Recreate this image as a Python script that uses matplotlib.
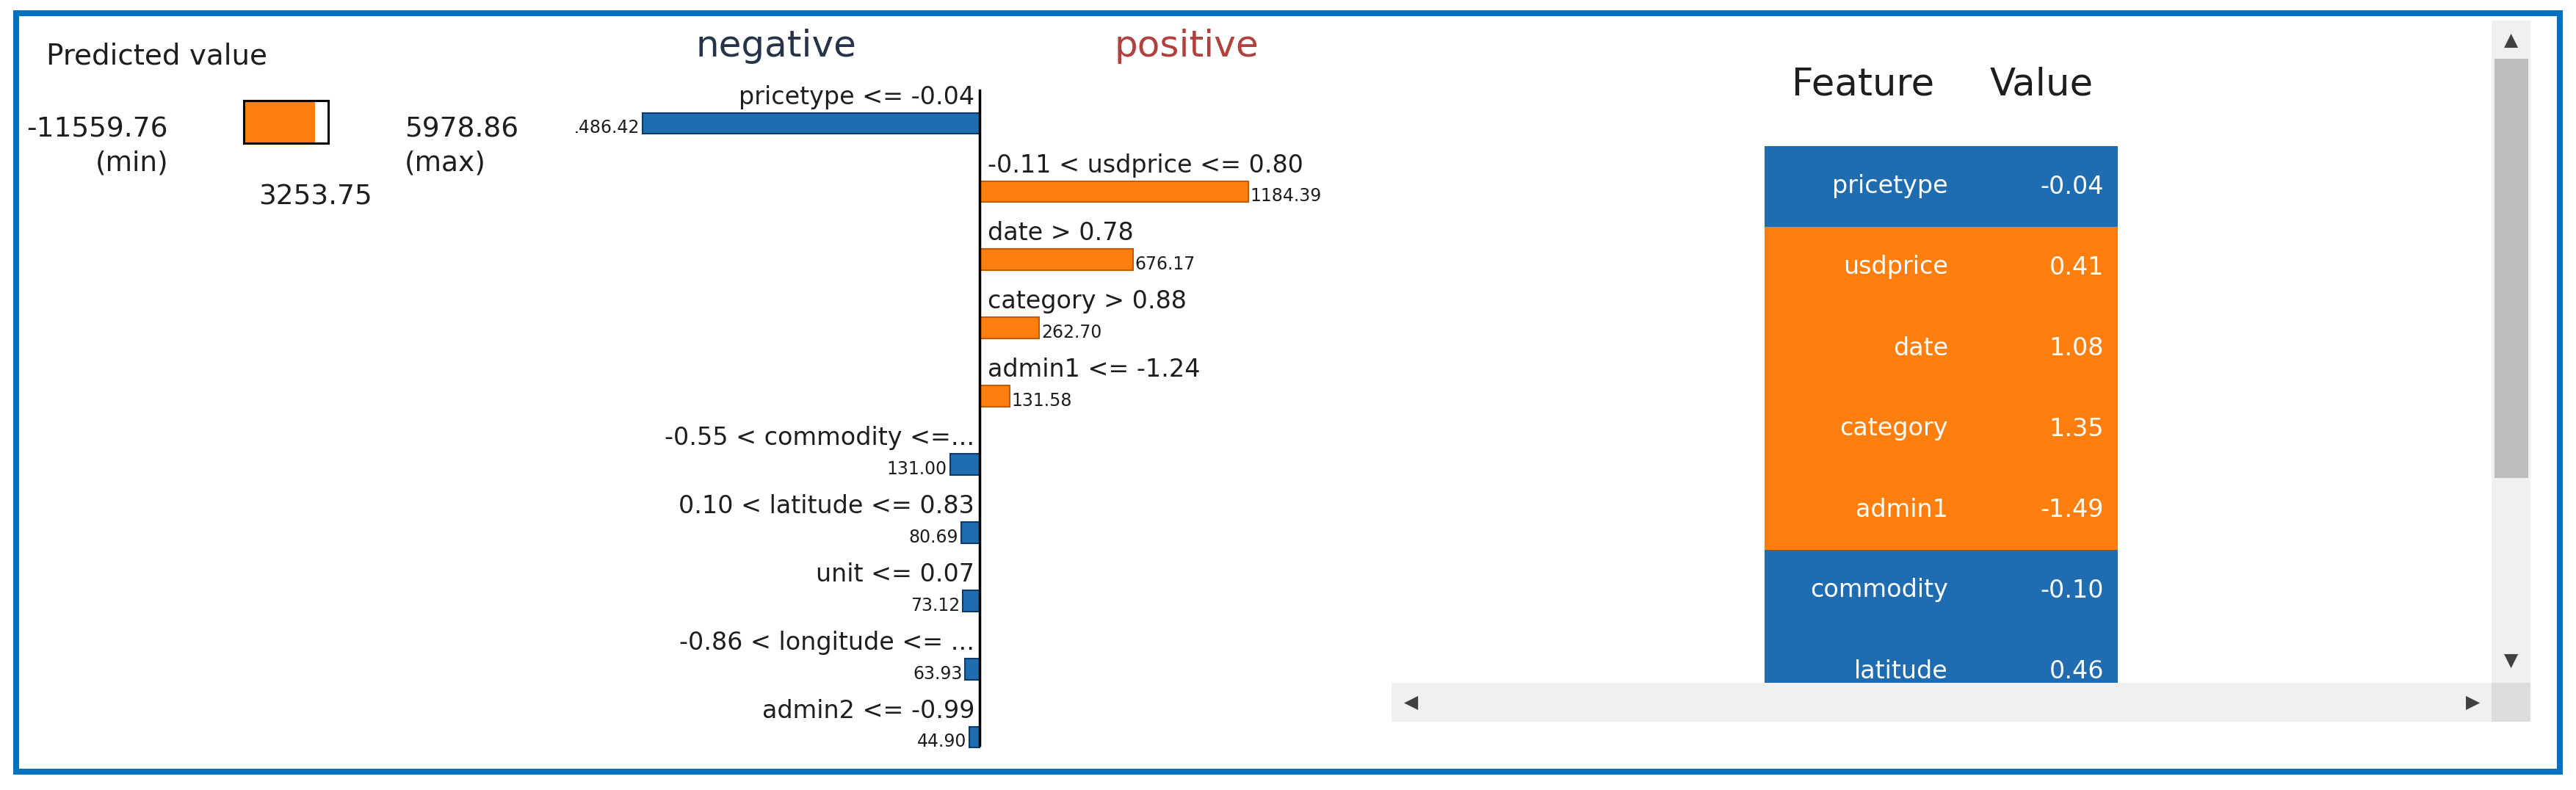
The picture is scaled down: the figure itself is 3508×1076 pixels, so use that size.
import matplotlib.pyplot as plt
from matplotlib.patches import Rectangle

# LIME explanation values
pred_min = -11559.76
pred_max = 5978.86
pred_value = 3253.75

feature_labels = ["pricetype <= -0.04", "-0.11 < usdprice <= 0.80", "date > 0.78",
                  "category > 0.88", "admin1 <= -1.24", "-0.55 < commodity <=...",
                  "0.10 < latitude <= 0.83", "unit <= 0.07", "-0.86 < longitude <= ...",
                  "admin2 <= -0.99"]
weights = [-1486.42, 1184.39, 676.17, 262.70, 131.58, -131.00, -80.69, -73.12, -63.93, -44.90]

table_features = ["pricetype", "usdprice", "date", "category", "admin1", "commodity", "latitude"]
table_values = [-0.04, 0.41, 1.08, 1.35, -1.49, -0.10, 0.46]

BLUE = "#1f6db0"
BLUE_EDGE = "#0b3a6b"
ORANGE = "#ff7f0e"
ORANGE_EDGE = "#c25c05"
TXT = "#1e1e1e"

W, H = 3508, 1076
fig = plt.figure(figsize=(W / 100, H / 100), dpi=100)


def box(x0, y0, x1, y1):
    # axes placed by pixel box (top-left origin)
    return fig.add_axes([x0 / W, 1 - y1 / H, (x1 - x0) / W, (y1 - y0) / H])


def ftext(x, y, s, **kw):
    kw.setdefault("color", TXT)
    return fig.text(x / W, 1 - y / H, s, **kw)


# background layer for frame and scrollbars
bg = fig.add_axes([0, 0, 1, 1])
bg.set_xlim(0, W)
bg.set_ylim(H, 0)
bg.axis("off")

# ---- predicted value panel ----
ftext(63, 88, "Predicted value", fontsize=28, va="baseline")
ftext(229, 186, f"{pred_min:.2f}", fontsize=27, ha="right", va="baseline")
ftext(229, 233, "(min)", fontsize=27, ha="right", va="baseline")
ftext(551, 186, f"{pred_max:.2f}", fontsize=27, ha="left", va="baseline")
ftext(551, 233, "(max)", fontsize=27, ha="left", va="baseline")

axp = box(332, 137, 447, 195)
axp.barh(0.5, pred_value - pred_min, left=pred_min, height=1, color=ORANGE)
axp.set_xlim(pred_min, pred_max)
axp.set_ylim(0, 1)
axp.set_xticks([])
axp.set_yticks([])
for sp in axp.spines.values():
    sp.set_linewidth(2.2)
    sp.set_color("black")
axp.annotate(f"{pred_value:.2f}", xy=(pred_value, 0), xycoords=("data", "axes fraction"),
             xytext=(0, -83), textcoords="offset pixels", ha="center", va="baseline",
             fontsize=27, color=TXT, annotation_clip=False)

# ---- contribution bars ----
ftext(1057, 77, "negative", fontsize=36, ha="center", va="baseline", color="#26344a")
ftext(1616, 77, "positive", fontsize=36, ha="center", va="baseline", color="#b0413e")

zero_px, unit_px = 1334, 0.3088
row0, row_px = 168, 92.9
ax_l, ax_r, ax_t, ax_b = 784, 1850, 100, 1030
ax = box(ax_l, ax_t, ax_r, ax_b)
ax.set_xlim((ax_l - zero_px) / unit_px, (ax_r - zero_px) / unit_px)
ax.set_ylim((ax_b - row0) / row_px, (ax_t - row0) / row_px)
ax.axis("off")

h = 0.31
rows = list(range(len(weights)))
ax.barh(rows, weights, height=h,
        color=[ORANGE if w > 0 else BLUE for w in weights],
        edgecolor=[ORANGE_EDGE if w > 0 else BLUE_EDGE for w in weights], linewidth=1.5)
ax.axvline(0, ymin=(ax_b - 1015) / (ax_b - ax_t), ymax=(ax_b - 123) / (ax_b - ax_t),
           color="black", lw=2.5)

for i, (lab, w) in enumerate(zip(feature_labels, weights)):
    if w > 0:
        ax.annotate(lab, xy=(0, i - h / 2), xytext=(11, 12), textcoords="offset pixels",
                    ha="left", va="baseline", fontsize=24, color=TXT)
        ax.annotate(f"{abs(w):.2f}", xy=(w, i + h / 2), xytext=(3, 1),
                    textcoords="offset pixels", ha="left", va="baseline",
                    fontsize=17, color=TXT, clip_on=True)
    else:
        ax.annotate(lab, xy=(0, i - h / 2), xytext=(-7, 12), textcoords="offset pixels",
                    ha="right", va="baseline", fontsize=24, color=TXT)
        ax.annotate(f"{abs(w):.2f}", xy=(w, i + h / 2), xytext=(-4, 1),
                    textcoords="offset pixels", ha="right", va="baseline",
                    fontsize=17, color=TXT, clip_on=True)

# ---- feature / value table ----
ftext(2440, 129.5, "Feature", fontsize=37, va="baseline")
ftext(2710, 129.5, "Value", fontsize=37, va="baseline")

tb_t, tb_b, tb_row = 199, 930, 110
axt = box(2403, tb_t, 2884, tb_b)
axt.set_xlim(0, 1)
axt.set_ylim((tb_b - tb_t) / tb_row, 0)
axt.axis("off")
trows = [i + 0.5 for i in range(len(table_features))]
axt.barh(trows, 1, height=1, left=0,
         color=[ORANGE if w > 0 else BLUE for w in weights[:len(table_features)]])
for y, name, val in zip(trows, table_features, table_values):
    axt.text(0.52, y, name, ha="right", va="center", fontsize=24, color="white", clip_on=True)
    axt.text(0.96, y, f"{val:.2f}", ha="right", va="center", fontsize=24, color="white",
             clip_on=True)

# ---- scrollbars ----
bg.add_patch(Rectangle((3393, 28), 53, 902, color="#f0f0f0", lw=0))
bg.add_patch(Rectangle((3397, 80), 46, 571, color="#bdbdbd", lw=0))
bg.add_patch(Rectangle((1895, 930), 1498, 53, color="#f0f0f0", lw=0))
bg.add_patch(Rectangle((3393, 930), 53, 53, color="#dcdcdc", lw=0))
for (x, y, s) in [(3420, 55, "▲"), (3420, 900, "▼"), (1922, 957, "◀"), (3368, 957, "▶")]:
    bg.text(x, y, s, ha="center", va="center", fontsize=18, color="#404040")

# outer frame
bg.add_patch(Rectangle((21.5, 17.5), 3485.5 - 21.5, 1051 - 17.5, fill=False,
                       edgecolor="#0070c0", lw=5.8))

fig.savefig("out.png", dpi=100)
